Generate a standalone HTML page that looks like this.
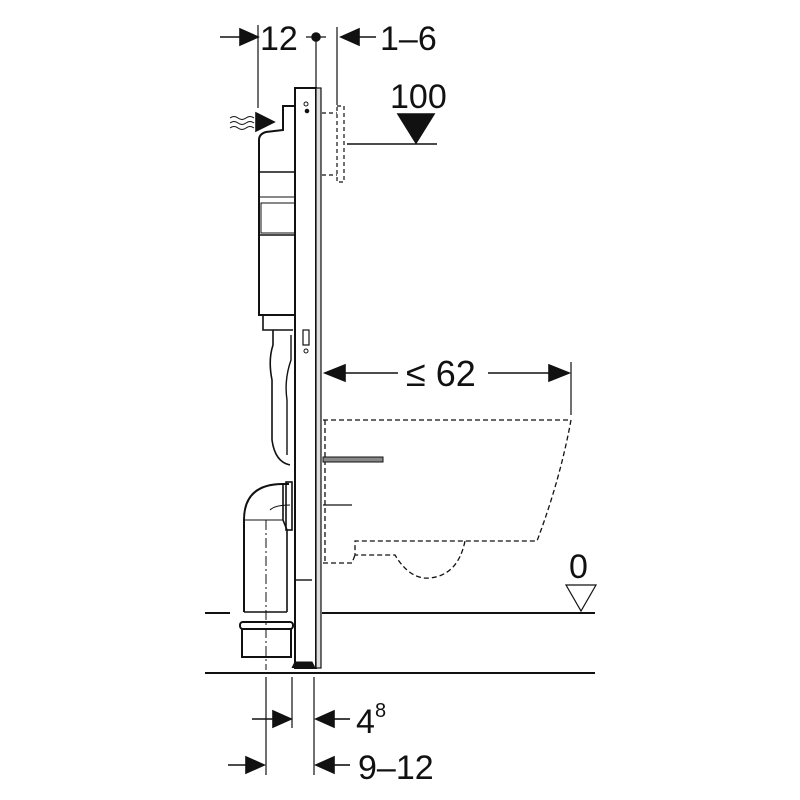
<!DOCTYPE html>
<html><head><meta charset="utf-8"><style>
html,body{margin:0;padding:0;background:#fff;width:800px;height:800px;overflow:hidden}
svg{display:block}
text{font-family:"Liberation Sans",sans-serif;fill:#111}
</style></head><body>
<svg width="800" height="800" viewBox="0 0 800 800" xmlns="http://www.w3.org/2000/svg">
<g stroke="#111" fill="none" stroke-width="1.6">
<line x1="220" y1="37" x2="256" y2="37"/>
<polygon points="240,29 258,37 240,45" fill="#111"/>
<line x1="258" y1="25" x2="258" y2="108" stroke-width="1.2"/>
<line x1="306" y1="37" x2="326" y2="37" stroke-width="1.2"/>
<circle cx="316" cy="37" r="4" fill="#111"/>
<line x1="316" y1="37" x2="316" y2="88" stroke-width="1.2"/>
<line x1="337" y1="27" x2="337" y2="105" stroke-width="1.2"/>
<polygon points="359,29 341,37 359,45" fill="#111"/>
<line x1="359" y1="37" x2="376" y2="37"/>
<polygon points="398,114 434,114 416,143" fill="#111"/>
<line x1="347" y1="144" x2="437" y2="144"/>
<rect x="337" y="106" width="7" height="76" stroke-dasharray="4,3" stroke-width="1.2"/>
<line x1="322" y1="113" x2="337" y2="113" stroke-dasharray="4,3" stroke-width="1.2"/>
<line x1="322" y1="175" x2="337" y2="175" stroke-dasharray="4,3" stroke-width="1.2"/>
<path d="M230 118 q4 -3 8 0 t8 0 t8 0 M230 123 q4 -3 8 0 t8 0 t8 0 M230 128 q4 -3 8 0 t8 0 t8 0" stroke-width="1"/>
<polygon points="256,113 274,122 256,131" fill="#111"/>
<rect x="295" y="88" width="21" height="580" stroke-width="2"/>
<rect x="316" y="88" width="5" height="580" fill="#ddd" stroke-width="1.2"/>
<rect x="303" y="330" width="6" height="15" stroke-width="1.2"/>
<circle cx="306" cy="351" r="2" stroke-width="1"/>
<circle cx="306" cy="104" r="2" stroke-width="1"/>
<circle cx="307" cy="111" r="1.5" fill="#111"/>
<path d="M295 106 H283 V130 L266 132 Q259 134 259 140 V315 H295" stroke-width="2"/>
<line x1="259" y1="172" x2="295" y2="172" stroke-width="1.6"/>
<line x1="259" y1="197" x2="295" y2="197" stroke-width="1"/>
<rect x="261" y="203" width="34" height="30" stroke-width="1"/>
<line x1="259" y1="235" x2="295" y2="235" stroke-width="1.6"/>
<path d="M263 315 V330 H293" stroke-width="1.6"/>
<path d="M273 330 V345 Q268 360 272 380 V440 Q275 462 290 465" stroke-width="1.6"/>
<path d="M291 335 V360 Q284 380 287 400 V455" stroke-width="1.4"/>
<g stroke-dasharray="5,3" stroke-width="1.3">
<path d="M323 420 H571 Q560 480 537 541 H355 V555 H395 Q410 580 430 578 Q458 575 465 541"/>
<path d="M323 563 H352 L355 555"/>
<line x1="325" y1="420" x2="325" y2="563"/>
</g>
<line x1="323" y1="505" x2="352" y2="505" stroke-width="1.2"/>
<rect x="323" y="457" width="60" height="5" fill="#888" stroke-width="1"/>
<line x1="328" y1="373" x2="398" y2="373"/>
<line x1="488" y1="373" x2="567" y2="373"/>
<polygon points="345,365 325,373 345,381" fill="#111"/>
<polygon points="549,365 569,373 549,381" fill="#111"/>
<line x1="571" y1="362" x2="571" y2="415" stroke-width="1.2"/>
<path d="M244 612 V520 Q244 484 283 484 H289" stroke-width="2"/>
<path d="M287 612 V530 L283 520 V484" stroke-width="1.6"/>
<line x1="244" y1="520" x2="283" y2="520" stroke-width="1"/>
<rect x="286" y="482" width="6" height="48" stroke-width="1.6"/>
<line x1="244" y1="612" x2="287" y2="612" stroke-width="1.6"/>
<path d="M270 510 Q275 505 290 505" stroke-width="1"/>
<line x1="266" y1="520" x2="266" y2="670" stroke-dasharray="10,3,2,3" stroke-width="1"/>
<rect x="240" y="622" width="53" height="7" rx="3" stroke-width="2"/>
<rect x="242" y="629" width="49" height="28" stroke-width="2"/>
<line x1="296" y1="580" x2="312" y2="580" stroke-width="1.4"/>
<path d="M292 668 L295 662 H312 L315 668" fill="#111" stroke-width="1"/>
<line x1="322" y1="613" x2="595" y2="613" stroke-width="2"/>
<line x1="205" y1="613" x2="230" y2="613" stroke-width="2"/>
<line x1="205" y1="673" x2="595" y2="673" stroke-width="2"/>
<polygon points="566,585 596,585 581,611" stroke-width="1.2"/>
<line x1="266" y1="677" x2="266" y2="775" stroke-width="1.2"/>
<line x1="292" y1="677" x2="292" y2="728" stroke-width="1.2"/>
<line x1="314" y1="677" x2="314" y2="775" stroke-width="1.2"/>
<line x1="252" y1="719" x2="275" y2="719"/>
<polygon points="273,711 291,719 273,727" fill="#111"/>
<polygon points="334,711 316,719 334,727" fill="#111"/>
<line x1="334" y1="719" x2="350" y2="719"/>
<line x1="228" y1="765" x2="248" y2="765"/>
<polygon points="246,757 264,765 246,773" fill="#111"/>
<polygon points="334,757 316,765 334,773" fill="#111"/>
<line x1="334" y1="765" x2="350" y2="765"/>
</g>
<text x="260" y="50" font-size="34">12</text>
<text x="380" y="50" font-size="34">1–6</text>
<text x="390" y="108" font-size="34">100</text>
<text x="406" y="386" font-size="36">≤ 62</text>
<text x="569" y="578" font-size="34">0</text>
<text x="356" y="733" font-size="34">4</text>
<text x="375" y="717" font-size="20">8</text>
<text x="358" y="779" font-size="34">9–12</text>
</svg>
</body></html>
